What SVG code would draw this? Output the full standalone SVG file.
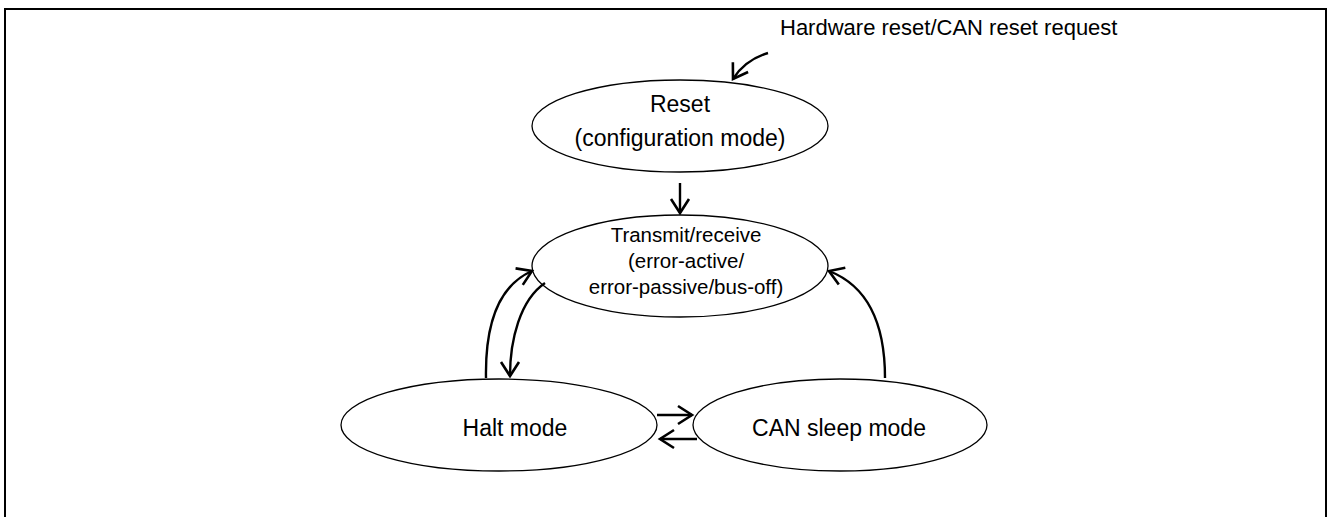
<svg xmlns="http://www.w3.org/2000/svg" width="1328" height="517" viewBox="0 0 1328 517">
<style>
.node ellipse{fill:#fff;stroke:#000;stroke-width:1.3}
text{font-family:"Liberation Sans",Arial,sans-serif;fill:#000;text-anchor:middle}
.big{font-size:23px}
.small{font-size:20.5px}
#connectors path{fill:none;stroke:#000;stroke-width:2.4}
</style>
<defs>
<marker id="ah" markerWidth="20" markerHeight="22" refX="17" refY="11" orient="auto" markerUnits="userSpaceOnUse">
<path d="M3,2 L17,11 L3,20" fill="none" stroke="#000" stroke-width="2.6"/>
</marker>
</defs>
<rect x="5" y="9" width="1321" height="520" fill="none" stroke="#000" stroke-width="2"/>
<g id="reset" class="node">
<ellipse cx="680" cy="126" rx="148" ry="46"/>
<text class="big" x="680" y="112">Reset</text>
<text class="big" x="680" y="146">(configuration mode)</text>
</g>
<g id="transmit" class="node">
<ellipse cx="680" cy="266" rx="148" ry="51"/>
<text class="small" x="686" y="242">Transmit/receive</text>
<text class="small" x="686" y="268">(error-active/</text>
<text class="small" x="686" y="294">error-passive/bus-off)</text>
</g>
<g id="halt" class="node">
<ellipse cx="499" cy="425" rx="158" ry="46"/>
<text class="big" x="515" y="436">Halt mode</text>
</g>
<g id="sleep" class="node">
<ellipse cx="840" cy="425" rx="147" ry="46"/>
<text class="big" x="839" y="436">CAN sleep mode</text>
</g>
<g id="label">
<text x="780" y="35" style="text-anchor:start;font-size:22px">Hardware reset/CAN reset request</text>
</g>
<g id="connectors">
<path d="M768,53 Q745,60 733,79" marker-end="url(#ah)"/>
<path d="M680,183 L680,213" marker-end="url(#ah)"/>
<path d="M486,378 C485,320 500,285 532,271" marker-end="url(#ah)"/>
<path d="M545,283 C520,300 510,340 510,376" marker-end="url(#ah)"/>
<path d="M657,415 L692,415" marker-end="url(#ah)"/>
<path d="M697,439 L660,439" marker-end="url(#ah)"/>
<path d="M885,378 C885,320 865,285 829,271" marker-end="url(#ah)"/>
</g>
</svg>
